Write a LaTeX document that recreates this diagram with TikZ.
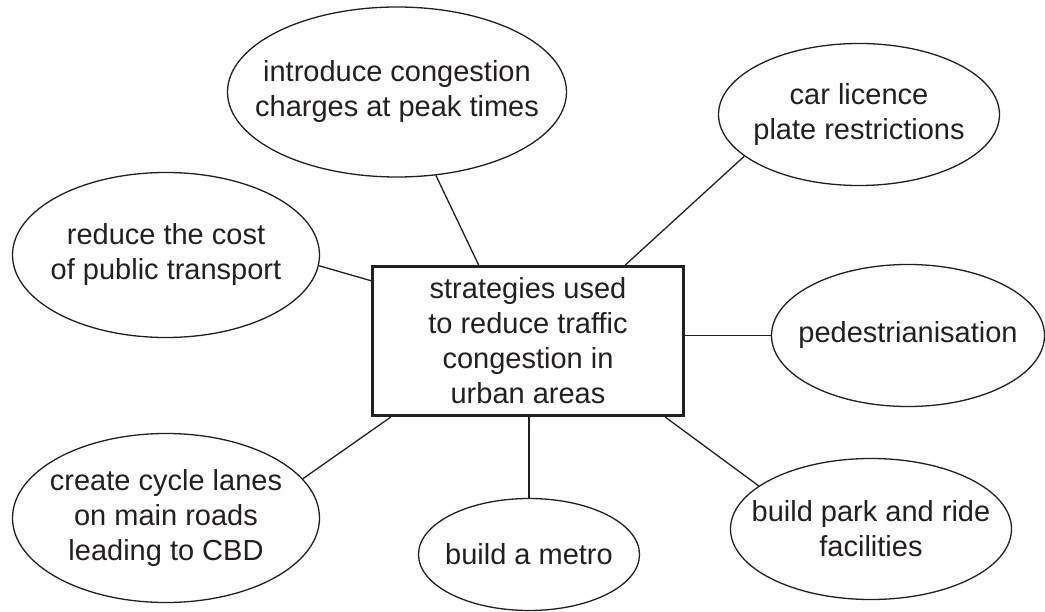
\documentclass[tikz,border=0pt]{standalone}
\usepackage{fontspec}
\setmainfont{Liberation Sans}
\usetikzlibrary{shapes.geometric}
\definecolor{ink}{HTML}{231F20}
\begin{document}
\begin{tikzpicture}[x=1bp,y=-1bp,
  oval/.style={ellipse,draw=ink,line width=1.3bp,inner sep=0pt},
  txt/.style={align=center,text=ink,font=\fontsize{29bp}{35bp}\selectfont,inner sep=0pt},
  hub/.style={rectangle,draw=ink,line width=3bp,minimum width=311bp,minimum height=149bp,inner sep=0pt,
              align=center,text=ink,font=\fontsize{29bp}{35bp}\selectfont},
  link/.style={draw=ink,line width=1.3bp}]
\useasboundingbox (0,0) rectangle (1045,612);
\node[hub] (c) at (528,341) {strategies used\\to reduce traffic\\congestion in\\urban areas};
\node[oval,minimum width=339bp,minimum height=170bp,label={[txt]center:{introduce congestion\\charges at peak times}}] (e1) at (397,92) {};
\node[oval,minimum width=281bp,minimum height=142bp,label={[txt]center:{car licence\\plate restrictions}}] (e2) at (859,114.5) {};
\node[oval,minimum width=307bp,minimum height=165bp,label={[txt]center:{reduce the cost\\of public transport}}] (e3) at (166,255) {};
\node[oval,minimum width=273bp,minimum height=142bp,label={[txt]center:{pedestrianisation}}] (e4) at (908,335.5) {};
\node[oval,minimum width=307bp,minimum height=169bp,label={[txt]center:{create cycle lanes\\on main roads\\leading to CBD}}] (e5) at (166,518) {};
\node[oval,minimum width=221bp,minimum height=112bp,label={[txt]center:{build a metro}}] (e6) at (529,554.5) {};
\node[oval,minimum width=281bp,minimum height=141bp,label={[txt]center:{build park and ride\\facilities}}] (e7) at (871,529) {};
\draw[link] (c.123.9) -- (e1.-65.1);
\draw[link] (c.38.9) -- (e2.200.4);
\draw[link] (c.159.4) -- (e3.-4.8);
\draw[link] (c.east |- e4.west) -- (e4.west);
\draw[link] (c.209.2) -- (e5.16.4);
\draw[link] (e6.north |- c.south) -- (e6.north);
\draw[link] (c.-29.3) -- (e7.159.5);
\end{tikzpicture}
\end{document}
